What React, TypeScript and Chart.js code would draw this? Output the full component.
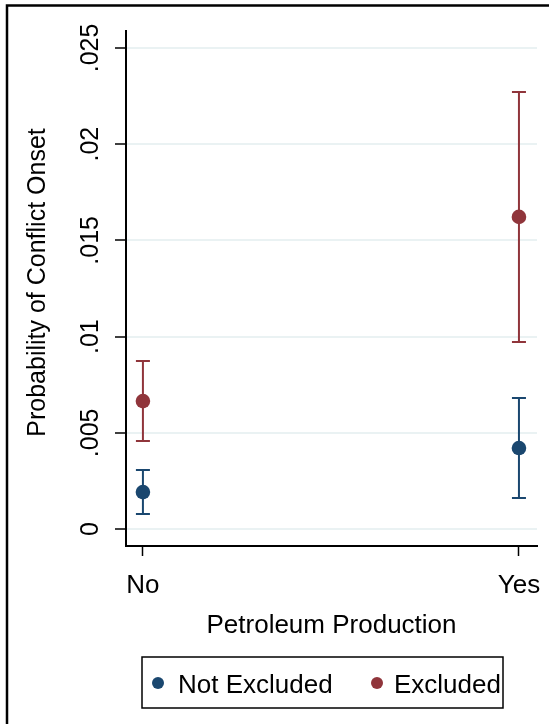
import React, { useEffect, useRef } from "react";
import { Chart, registerables } from "chart.js";

Chart.register(...registerables);

const categories = ["No", "Yes"];
const seriesLabels = ["Not Excluded", "Excluded"];
const seriesColors = ["#1a476f", "#90353b"];
const notExcluded = [0.00192, 0.00421];
const notExcludedLow = [0.00078, 0.00161];
const notExcludedHigh = [0.00307, 0.00681];
const excluded = [0.00665, 0.01622];
const excludedLow = [0.00457, 0.00972];
const excludedHigh = [0.00873, 0.02271];
const yTicks = [0, 0.005, 0.01, 0.015, 0.02, 0.025];
const yTickLabels = ["0", ".005", ".01", ".015", ".02", ".025"];
const xTitle = "Petroleum Production";
const yTitle = "Probability of Conflict Onset";

const FONT = "'Liberation Sans', Arial, Helvetica, sans-serif";

export default function App() {
  const ref = useRef<HTMLCanvasElement | null>(null);

  useEffect(() => {
    document.body.style.margin = "0";
    const canvas = ref.current;
    if (!canvas) return;

    const lows = [notExcludedLow, excludedLow];
    const highs = [notExcludedHigh, excludedHigh];

    const customPlugin = {
      id: "custom",
      beforeDatasetsDraw(chart: any) {
        const ctx = chart.ctx;
        const xs = chart.scales.x;
        const ys = chart.scales.y;
        ctx.save();
        for (let s = 0; s < 2; s++) {
          ctx.strokeStyle = seriesColors[s];
          ctx.lineWidth = 2;
          for (let i = 0; i < categories.length; i++) {
            const px = xs.getPixelForValue(i);
            const pl = ys.getPixelForValue(lows[s][i]);
            const ph = ys.getPixelForValue(highs[s][i]);
            ctx.beginPath();
            ctx.moveTo(px, pl);
            ctx.lineTo(px, ph);
            ctx.moveTo(px - 7, pl);
            ctx.lineTo(px + 7, pl);
            ctx.moveTo(px - 7, ph);
            ctx.lineTo(px + 7, ph);
            ctx.stroke();
          }
        }
        ctx.restore();
      },
      afterDraw(chart: any) {
        const ctx = chart.ctx;
        const xs = chart.scales.x;
        const ys = chart.scales.y;
        const area = chart.chartArea;
        ctx.save();
        ctx.fillStyle = "#000";
        // outer frame
        ctx.strokeStyle = "#000";
        ctx.lineWidth = 2.5;
        ctx.beginPath();
        ctx.moveTo(7, 730);
        ctx.lineTo(7, 5.5);
        ctx.lineTo(560, 5.5);
        ctx.stroke();

        // y tick labels (rotated)
        ctx.font = `25px ${FONT}`;
        ctx.textAlign = "center";
        ctx.textBaseline = "alphabetic";
        yTicks.forEach((v, i) => {
          const py = ys.getPixelForValue(v);
          ctx.save();
          ctx.translate(98, py);
          ctx.rotate(-Math.PI / 2);
          ctx.fillText(yTickLabels[i], 0, 0);
          ctx.restore();
        });
        // y title
        ctx.save();
        ctx.translate(45, (area.top + area.bottom) / 2 - 6);
        ctx.rotate(-Math.PI / 2);
        ctx.fillText(yTitle, 0, 0);
        ctx.restore();

        // x tick labels
        ctx.font = `26px ${FONT}`;
        categories.forEach((c, i) => {
          ctx.fillText(c, xs.getPixelForValue(i), 593);
        });
        // x title
        ctx.fillText(xTitle, (area.left + area.right) / 2, 633);

        // legend
        ctx.lineWidth = 1.5;
        ctx.strokeRect(142, 657, 361, 51);
        const items = [
          { cx: 158, tx: 178 },
          { cx: 377, tx: 394 },
        ];
        ctx.textAlign = "left";
        items.forEach((it, s) => {
          ctx.fillStyle = seriesColors[s];
          ctx.beginPath();
          ctx.arc(it.cx, 683, 6, 0, Math.PI * 2);
          ctx.fill();
          ctx.fillStyle = "#000";
          ctx.fillText(seriesLabels[s], it.tx, 693);
        });
        ctx.restore();
      },
    };

    const chart = new Chart(canvas, {
      type: "scatter",
      data: {
        datasets: [
          {
            label: seriesLabels[0],
            data: notExcluded.map((v, i) => ({ x: i, y: v })),
            backgroundColor: seriesColors[0],
            borderColor: seriesColors[0],
            pointRadius: 7.3,
            pointBorderWidth: 0,
          },
          {
            label: seriesLabels[1],
            data: excluded.map((v, i) => ({ x: i, y: v })),
            backgroundColor: seriesColors[1],
            borderColor: seriesColors[1],
            pointRadius: 7.3,
            pointBorderWidth: 0,
          },
        ],
      },
      options: {
        responsive: false,
        animation: false,
        layout: { padding: { top: 31, right: 12, left: 0, bottom: 0 } },
        plugins: {
          legend: { display: false },
          tooltip: { enabled: false },
        },
        scales: {
          x: {
            type: "linear",
            min: -0.045,
            max: 1.048,
            afterBuildTicks: (scale: any) => {
              scale.ticks = categories.map((_, i) => ({ value: i }));
            },
            afterFit: (scale: any) => {
              scale.height = 178;
            },
            ticks: { display: false },
            grid: {
              drawOnChartArea: false,
              drawTicks: true,
              tickLength: 10,
              tickColor: "#000",
              tickWidth: 1.5,
            },
            border: { display: true, color: "#000", width: 2 },
          },
          y: {
            type: "linear",
            min: -0.00088,
            max: 0.02588,
            afterBuildTicks: (scale: any) => {
              scale.ticks = yTicks.map((v) => ({ value: v }));
            },
            afterFit: (scale: any) => {
              scale.width = 126;
            },
            ticks: { display: false },
            grid: {
              color: "#eaf2f3",
              lineWidth: 2,
              drawTicks: true,
              tickLength: 11,
              tickColor: "#000",
              tickWidth: 1.5,
            },
            border: { display: true, color: "#000", width: 2 },
          },
        },
      },
      plugins: [customPlugin],
    } as any);

    return () => chart.destroy();
  }, []);

  return (
    <div style={{ width: 549, height: 724 }}>
      <canvas ref={ref} width={549} height={724} style={{ display: "block" }} />
    </div>
  );
}
